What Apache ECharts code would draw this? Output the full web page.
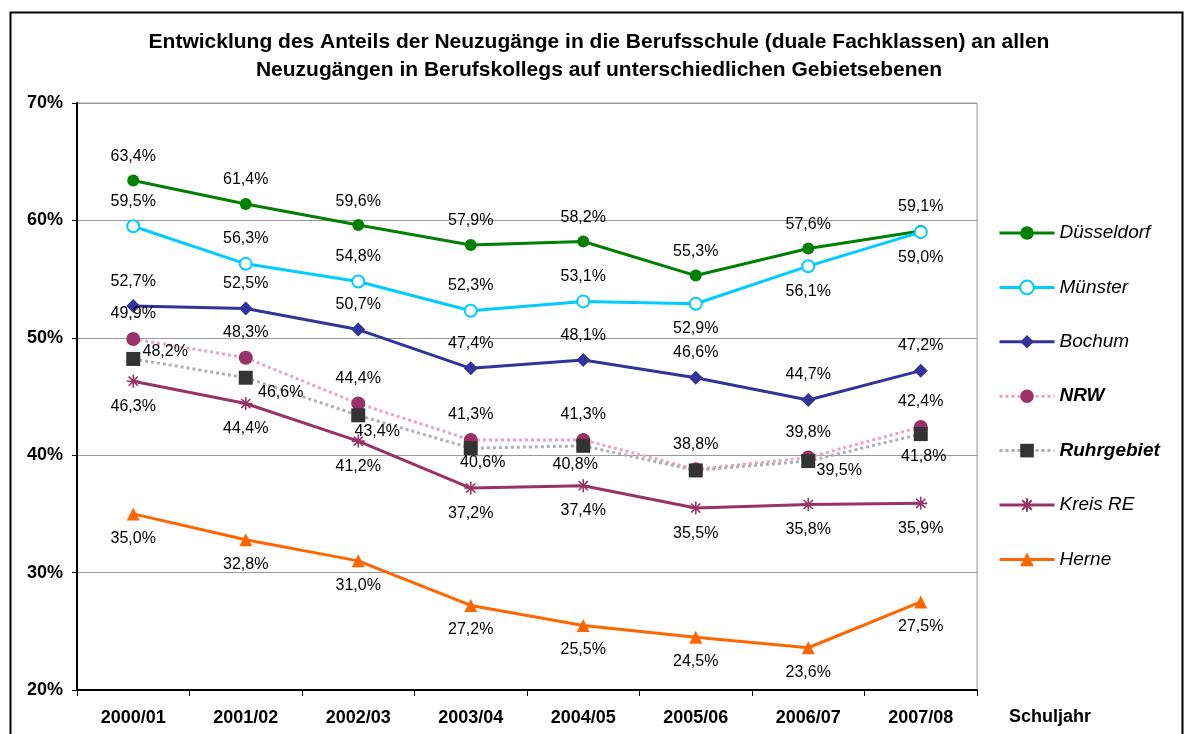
<!DOCTYPE html>
<html><head><meta charset="utf-8">
<script src="https://cdn.jsdelivr.net/npm/echarts@6/dist/echarts.min.js"></script>
<style>html,body{margin:0;padding:0;background:#fff}#c{width:1191px;height:734px}</style>
</head><body><div id="c"></div>
<script>
const categories = ['2000/01','2001/02','2002/03','2003/04','2004/05','2005/06','2006/07','2007/08'];
const duesseldorf = [63.4, 61.4, 59.6, 57.9, 58.2, 55.3, 57.6, 59.1];
const muenster    = [59.5, 56.3, 54.8, 52.3, 53.1, 52.9, 56.1, 59.0];
const bochum      = [52.7, 52.5, 50.7, 47.4, 48.1, 46.6, 44.7, 47.2];
const nrw         = [49.9, 48.3, 44.4, 41.3, 41.3, 38.8, 39.8, 42.4];
const ruhrgebiet  = [48.2, 46.6, 43.4, 40.6, 40.8, 38.7, 39.5, 41.8];
const kreisRE     = [46.3, 44.4, 41.2, 37.2, 37.4, 35.5, 35.8, 35.9];
const herne       = [35.0, 32.8, 31.0, 27.2, 25.5, 24.5, 23.6, 27.5];
const yTicks = [20, 30, 40, 50, 60, 70];

const FF = 'Liberation Sans, Arial, sans-serif';
const fmt = v => v.toFixed(1).replace('.', ',') + '%';
const lblFont = {fontFamily:FF, fontSize:16, color:'#000'};

// label placement tweaks (layout, not data)
const ruhrOffsets = [[32,-7],[35,15],[19,16],[12,14],[-8,19],null,[31,10],[3,23]];
const muensterBelow = [false,false,false,false,false,true,true,true];

function baseLabel(pos){
  return Object.assign({show:true, position:pos, distance:10, formatter:p=>fmt(p.value)}, lblFont);
}

const asterisk = 'path://M5,0L5,10M0,5L10,5M1.5,1.5L8.5,8.5M8.5,1.5L1.5,8.5';

const series = [
  {name:'Düsseldorf', data:duesseldorf, color:'#008000', symbol:'circle', symbolSize:12,
   lineStyle:{width:3}, label:baseLabel('top')},
  {name:'Münster', data:muenster.map((v,i)=>muensterBelow[i]?{value:v,label:{position:'bottom'}}:v),
   color:'#00CCFF', symbol:'circle', symbolSize:12,
   itemStyle:{color:'#fff', borderColor:'#00CCFF', borderWidth:2},
   lineStyle:{width:3, color:'#00CCFF'}, label:baseLabel('top')},
  {name:'Bochum', data:bochum, color:'#333399', symbol:'diamond', symbolSize:14,
   lineStyle:{width:3}, label:baseLabel('top')},
  {name:'NRW', data:nrw, color:'#993366', symbol:'circle', symbolSize:14,
   lineStyle:{width:3, color:'#e6a6c6', type:'dotted'}, label:baseLabel('top')},
  {name:'Ruhrgebiet', data:ruhrgebiet.map((v,i)=>({value:v, label: ruhrOffsets[i]
      ? {show:true, position:'inside', offset:ruhrOffsets[i]} : {show:false}})),
   color:'#333333', symbol:'rect', symbolSize:14,
   lineStyle:{width:3, color:'#b0b0b0', type:'dotted'}, label:baseLabel('inside')},
  {name:'Kreis RE', data:kreisRE, color:'#993366', symbol:asterisk, symbolSize:13,
   itemStyle:{color:'#993366', borderColor:'#993366', borderWidth:1.6},
   lineStyle:{width:3}, label:baseLabel('bottom')},
  {name:'Herne', data:herne, color:'#FF6600', symbol:'triangle', symbolSize:13,
   lineStyle:{width:3}, label:baseLabel('bottom')}
].map(s=>Object.assign({type:'line', showAllSymbol:true, animation:false, z:2}, s));

const chart = echarts.init(document.getElementById('c'));
chart.setOption({
  backgroundColor:'#fff',
  animation:false,
  textStyle:{fontFamily:FF},
  graphic:[{type:'rect', shape:{x:10.5, y:12.5, width:1172, height:740},
    style:{fill:'none', stroke:'#000', lineWidth:2}, silent:true, z:-1}],
  title:{
    text:'Entwicklung des Anteils der Neuzugänge in die Berufsschule (duale Fachklassen) an allen\nNeuzugängen in Berufskollegs auf unterschiedlichen Gebietsebenen',
    left:599, top:28, textAlign:'center', padding:0,
    textStyle:{fontFamily:FF, fontSize:21, fontWeight:'bold', color:'#000', lineHeight:28}
  },
  legend:{
    orient:'vertical', left:993, top:218.5, itemGap:35.4, itemWidth:55, itemHeight:17,
    data:series.map(s=>s.name),
    lineStyle:{width:3},
    textStyle:{fontFamily:FF, fontSize:19, fontStyle:'italic', color:'#000',
      rich:{b:{fontFamily:FF, fontSize:19, fontStyle:'italic', fontWeight:'bold', color:'#000'}}},
    formatter:n=>(n==='NRW'||n==='Ruhrgebiet')?'{b|'+n+'}':n
  },
  grid:{left:77, right:214, top:103, bottom:44, show:true, borderColor:'#999', borderWidth:1},
  xAxis:{
    type:'category', data:categories, boundaryGap:true,
    axisLine:{lineStyle:{color:'#000', width:2}},
    axisTick:{show:true, length:6, lineStyle:{color:'#000'}},
    axisLabel:{fontFamily:FF, fontSize:18, fontWeight:'bold', color:'#000', margin:19},
    name:'Schuljahr', nameLocation:'end', nameGap:32,
    nameTextStyle:{fontFamily:FF, fontSize:18, fontWeight:'bold', color:'#000',
      align:'left', verticalAlign:'top', padding:[18,0,0,0]}
  },
  yAxis:{
    type:'value', min:yTicks[0], max:yTicks[yTicks.length-1], interval:10,
    axisLine:{show:true, lineStyle:{color:'#000', width:2}},
    axisTick:{show:true, length:5, lineStyle:{color:'#000'}},
    axisLabel:{fontFamily:FF, fontSize:18, fontWeight:'bold', color:'#000', margin:14,
      formatter:v=>v+'%'},
    splitLine:{lineStyle:{color:'#999', width:1}}
  },
  series:series
});
</script></body></html>
